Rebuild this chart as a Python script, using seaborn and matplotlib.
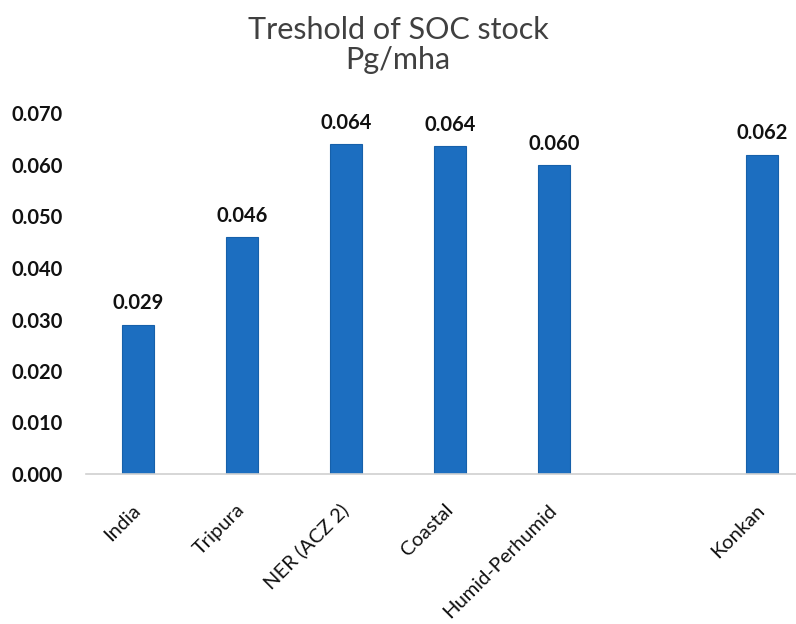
import matplotlib
matplotlib.use("Agg")
import matplotlib.pyplot as plt
import seaborn as sns
import pandas as pd

# Threshold SOC stock by region (Pg/mha); one blank slot before Konkan
regions = ["India", "Tripura", "NER (ACZ 2)", "Coastal", "Humid-Perhumid", "Konkan"]
slot_order = ["India", "Tripura", "NER (ACZ 2)", "Coastal", "Humid-Perhumid", " ", "Konkan"]
soc_stock = [0.029, 0.046, 0.064, 0.0637, 0.060, 0.062]
value_labels = ["0.029", "0.046", "0.064", "0.064", "0.060", "0.062"]
y_ticks = [0.000, 0.010, 0.020, 0.030, 0.040, 0.050, 0.060, 0.070]

df = pd.DataFrame({"region": regions, "stock": soc_stock})

sns.set_style("white")
plt.rcParams["font.family"] = ["Lato", "DejaVu Sans"]

fig = plt.figure(figsize=(7.96, 6.24), dpi=100)
ax = fig.add_axes([86 / 796, 1 - 474 / 624, 1 - 86 / 796, (474 - 113.5) / 624])

bar_color = "#1c6ec0"
sns.barplot(data=df, x="region", y="stock", order=slot_order, color=bar_color,
            width=0.3, saturation=1, edgecolor="#1660aa", linewidth=0.8, ax=ax)

ax.set_xlim(-0.5, -0.5 + (796 - 86) / 104)
ax.set_ylim(0, 0.07)
ax.set_yticks(y_ticks)
ax.set_yticklabels([f"{t:.3f}" for t in y_ticks], fontsize=14.5, fontweight="bold", color="#111111")
ax.tick_params(axis="y", length=0, pad=17)

ax.set_xticks(range(len(slot_order)))
ax.set_xticklabels(slot_order, rotation=45, ha="right", va="center",
                   rotation_mode="anchor", fontsize=14.5, color="#111111")
ax.tick_params(axis="x", length=0, pad=24)

ax.set_xlabel("")
ax.set_ylabel("")
for side in ["top", "right", "left"]:
    ax.spines[side].set_visible(False)
ax.spines["bottom"].set_color("#d0d0d0")
ax.spines["bottom"].set_linewidth(1.2)

# value labels above each bar
for name, val, lab in zip(regions, soc_stock, value_labels):
    xpos = slot_order.index(name)
    ax.annotate(lab, xy=(xpos, val), xytext=(0, 11), textcoords="offset points",
                ha="center", va="baseline", fontsize=14.5, fontweight="bold", color="#111111")

fig.text(0.5, 1 - 39 / 624, "Treshold of SOC stock", ha="center", va="baseline",
         fontsize=22, color="#404040")
fig.text(0.5, 1 - 69 / 624, "Pg/mha", ha="center", va="baseline",
         fontsize=22, color="#404040")

fig.savefig("out.png", dpi=100)
